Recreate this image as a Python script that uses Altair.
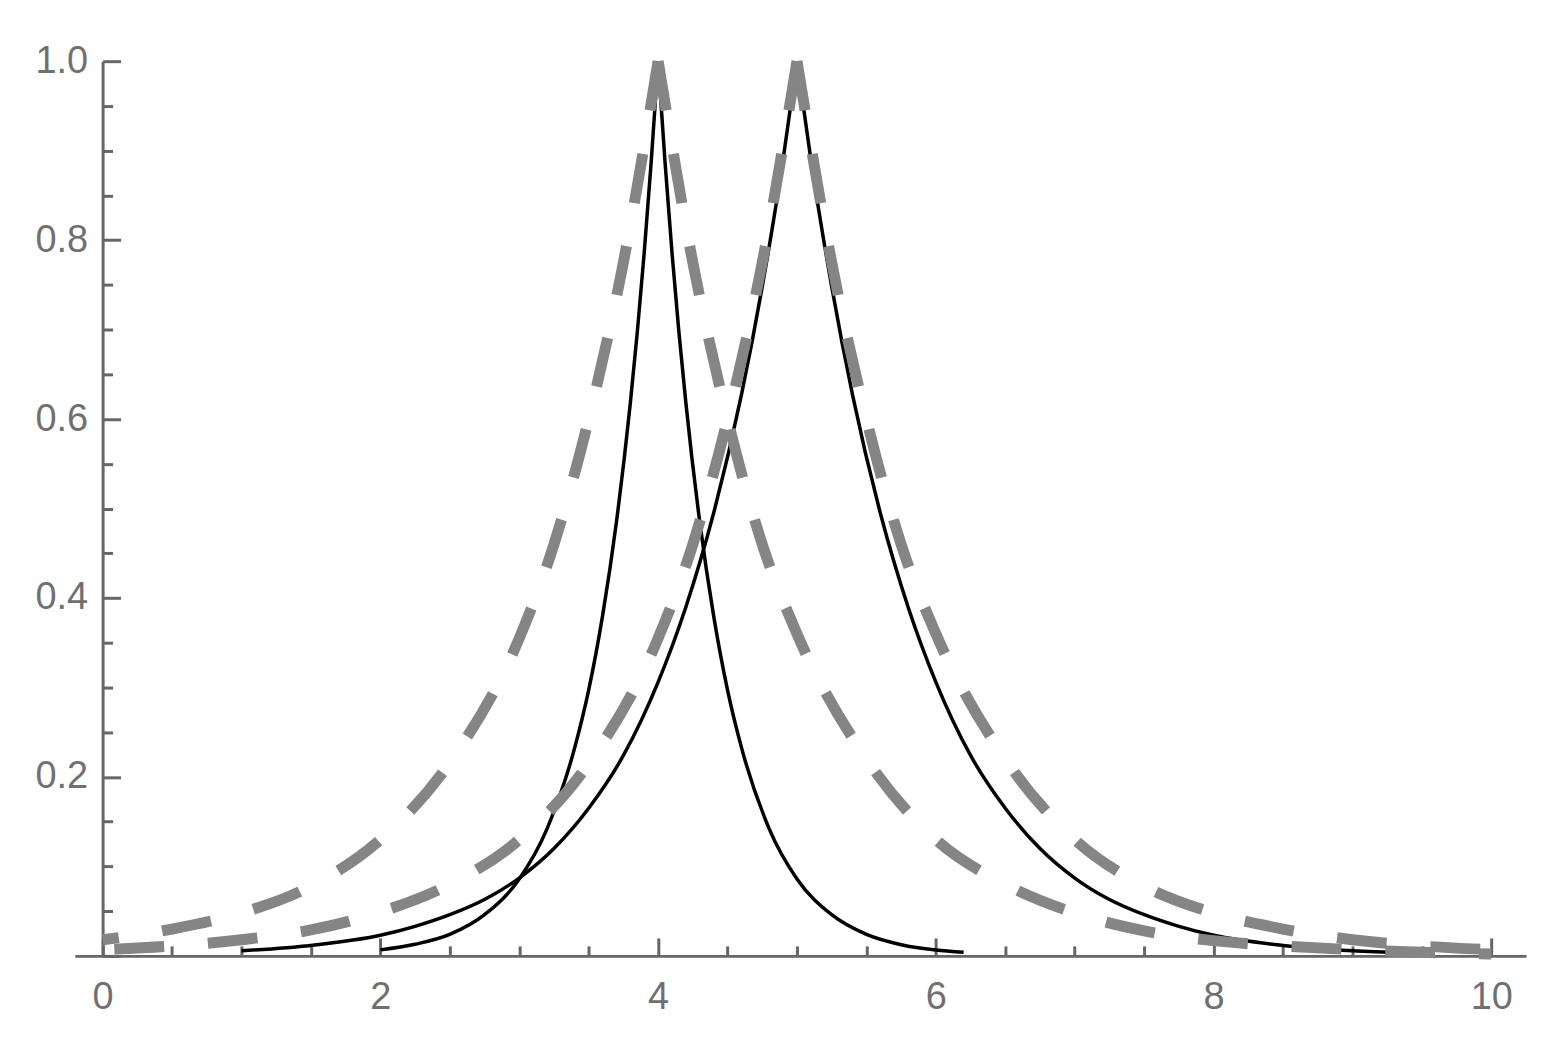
import altair as alt
import pandas as pd

# ---- data ----
# narrow solid curve (peak at 4)
N_X = [2.0, 2.25, 2.5, 2.75, 3.0, 3.2, 3.4, 3.5, 3.6, 3.7, 3.8, 3.85, 3.9, 3.95, 4.0,
       4.05, 4.1, 4.15, 4.2, 4.3, 4.4, 4.5, 4.6, 4.8, 5.0, 5.25, 5.5, 5.75, 6.0, 6.2]
N_Y = [0.0067, 0.013, 0.024, 0.046, 0.086, 0.142, 0.233, 0.297, 0.38, 0.485, 0.618, 0.697, 0.786, 0.887, 1.0,
       0.887, 0.786, 0.697, 0.618, 0.485, 0.38, 0.297, 0.233, 0.142, 0.086, 0.046, 0.024, 0.0125, 0.0065, 0.004]

# wide solid curve (peak at 5)
W_X = [1.0, 1.5, 2.0, 2.25, 2.5, 2.75, 3.0, 3.25, 3.5, 3.75, 4.0, 4.2, 4.4, 4.6, 4.75, 4.9, 5.0,
       5.1, 5.25, 5.4, 5.6, 5.8, 6.0, 6.25, 6.5, 6.75, 7.0, 7.25, 7.5, 7.75, 8.0, 8.5, 9.0, 9.4]
W_Y = [0.0057, 0.0117, 0.023, 0.033, 0.046, 0.063, 0.087, 0.12, 0.165, 0.224, 0.306, 0.39, 0.495, 0.627, 0.748, 0.89, 1.0,
       0.89, 0.748, 0.627, 0.495, 0.39, 0.306, 0.224, 0.165, 0.12, 0.087, 0.063, 0.046, 0.033, 0.023, 0.0117, 0.0057, 0.0035]

# dashed curve peaking at 4
D4_X = [0, 0.5, 1, 1.5, 2, 2.5, 3, 3.25, 3.5, 3.75, 4.0, 4.25, 4.5, 4.75, 5,
        5.5, 6, 6.5, 7, 7.5, 8, 8.5, 9, 9.5, 10]
D4_Y = [0.018, 0.03, 0.048, 0.078, 0.13, 0.216, 0.355, 0.46, 0.6, 0.775, 1.0, 0.775, 0.6, 0.46, 0.36,
        0.22, 0.13, 0.08, 0.048, 0.028, 0.017, 0.011, 0.007, 0.004, 0.002]

# dashed curve peaking at 5
D5_X = [0, 0.5, 1, 1.5, 2, 2.5, 3, 3.5, 4, 4.25, 4.5, 4.75, 5, 5.25, 5.5, 5.75, 6,
        6.5, 7, 7.5, 8, 8.5, 9, 9.5, 10]
D5_Y = [0.007, 0.011, 0.018, 0.029, 0.049, 0.08, 0.13, 0.215, 0.355, 0.46, 0.6, 0.775, 1.0, 0.775, 0.6, 0.46, 0.36,
        0.22, 0.13, 0.078, 0.048, 0.03, 0.018, 0.011, 0.007]

X_MAJOR = [0, 2, 4, 6, 8, 10]
X_MINOR = [0.5, 1, 1.5, 2.5, 3, 3.5, 4.5, 5, 5.5, 6.5, 7, 7.5, 8.5, 9, 9.5]
Y_MAJOR = [0, 0.2, 0.4, 0.6, 0.8, 1.0]
Y_LABELS = [0.2, 0.4, 0.6, 0.8, 1.0]
Y_MINOR = [0.05, 0.1, 0.15, 0.25, 0.3, 0.35, 0.45, 0.5, 0.55, 0.65, 0.7, 0.75, 0.85, 0.9, 0.95]


def branches(xs, ys, name):
    """Split a peaked curve into two branches that both start at the peak."""
    k = ys.index(max(ys))
    rows = []
    for i in range(k, -1, -1):
        rows.append({"x": xs[i], "y": ys[i], "branch": name + "_L", "o": k - i})
    for i in range(k, len(xs)):
        rows.append({"x": xs[i], "y": ys[i], "branch": name + "_R", "o": i - k})
    return pd.DataFrame(rows)


solid = pd.concat([branches(N_X, N_Y, "narrow"), branches(W_X, W_Y, "wide")], ignore_index=True)
dashed = pd.concat([branches(D4_X, D4_Y, "d4"), branches(D5_X, D5_Y, "d5")], ignore_index=True)

W, H = 1455, 897
X_LO, X_HI = -0.2, 10.25
x0_px = (0 - X_LO) / (X_HI - X_LO) * W  # pixel position of x = 0

xscale = alt.Scale(domain=[X_LO, X_HI], nice=False, zero=False)
yscale = alt.Scale(domain=[0, 1], nice=False, zero=False)

AXC = "#666666"
LABC = "#707070"
FONT = "Liberation Sans"
FS = 38

x_labels = alt.Axis(orient="bottom", values=X_MAJOR, format="d", ticks=False, domain=False, grid=False,
                    labelFont=FONT, labelFontSize=FS, labelColor=LABC, labelPadding=23, title="")
y_labels = alt.Axis(orient="left", values=Y_LABELS, format=".1f", ticks=False, domain=False, grid=False,
                    labelFont=FONT, labelFontSize=FS, labelColor=LABC, labelPadding=15,
                    offset=-x0_px, title="")

x_major = alt.Axis(orient="top", values=X_MAJOR, labels=False, grid=False, ticks=True, tickSize=18,
                   tickWidth=3, tickColor=AXC, domain=True, domainWidth=3, domainColor=AXC,
                   offset=-H, title="")
y_major = alt.Axis(orient="right", values=Y_MAJOR, labels=False, grid=False, ticks=True, tickSize=18,
                   tickWidth=3, tickColor=AXC, domain=True, domainWidth=3, domainColor=AXC,
                   offset=x0_px - W, title="")

x_minor = alt.Axis(orient="top", values=X_MINOR, labels=False, grid=False, ticks=True, tickSize=10,
                   tickWidth=3, tickColor=AXC, domain=False, offset=-H, title="")
y_minor = alt.Axis(orient="right", values=Y_MINOR, labels=False, grid=False, ticks=True, tickSize=10,
                   tickWidth=3, tickColor=AXC, domain=False, offset=x0_px - W, title="")

solid_layer = alt.Chart(solid).mark_line(color="black", strokeWidth=3.5, interpolate="monotone").encode(
    x=alt.X("x:Q", scale=xscale, axis=x_labels),
    y=alt.Y("y:Q", scale=yscale, axis=y_labels),
    detail="branch:N",
    order="o:Q",
)

minor_layer = alt.Chart(solid).mark_line(strokeOpacity=0).encode(
    x=alt.X("x:Q", scale=xscale, axis=x_minor),
    y=alt.Y("y:Q", scale=yscale, axis=y_minor),
    detail="branch:N",
    order="o:Q",
)

dashed_layer = alt.Chart(dashed).mark_line(color="#858585", strokeWidth=11, strokeDash=[50, 44],
                                           strokeCap="butt", interpolate="monotone").encode(
    x=alt.X("x:Q", scale=xscale, axis=x_major),
    y=alt.Y("y:Q", scale=yscale, axis=y_major),
    detail="branch:N",
    order="o:Q",
)

chart = alt.layer(solid_layer, minor_layer, dashed_layer).resolve_axis(
    x="independent", y="independent"
).properties(
    width=W, height=H,
    padding={"left": 67, "top": 52, "right": 30, "bottom": 77},
    autosize="none",
).configure_view(strokeWidth=0)

chart.save("out.html", embed_options={"renderer": "svg", "actions": False})
